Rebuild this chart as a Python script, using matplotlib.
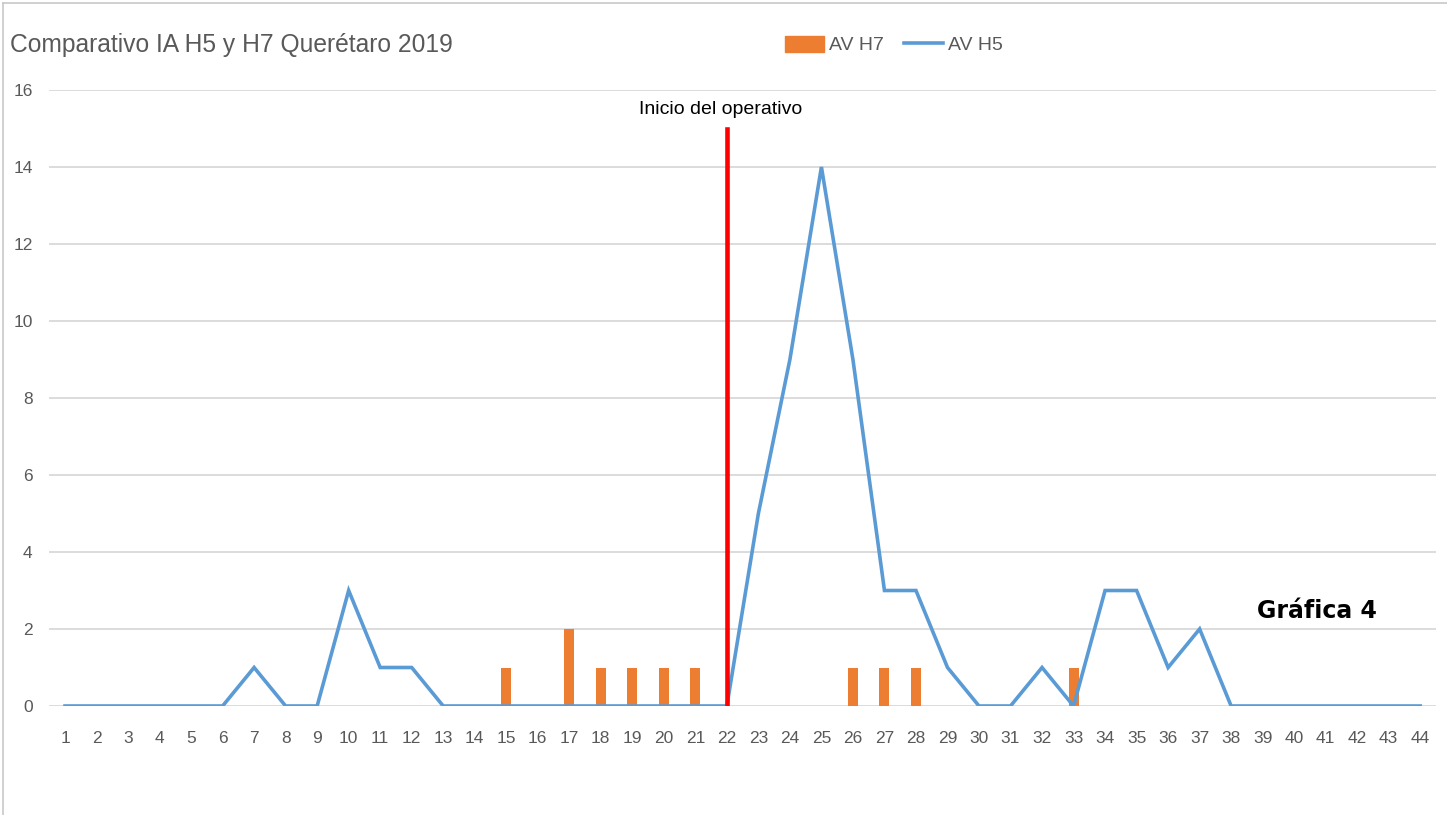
import matplotlib.pyplot as plt
from matplotlib.lines import Line2D
from matplotlib.patches import Patch
import numpy as np

semanas = list(range(1, 45))

av_h5 = [0, 0, 0, 0, 0, 0, 1, 0, 0, 3,
         1, 1, 0, 0, 0, 0, 0, 0, 0, 0,
         0, 0, 5, 9, 14, 9, 3, 3, 1, 0,
         0, 1, 0, 3, 3, 1, 2, 0, 0, 0,
         0, 0, 0, 0]

h7_semanas = [15, 17, 18, 19, 20, 21, 26, 27, 28, 33]
h7_valores = [1, 2, 1, 1, 1, 1, 1, 1, 1, 1]

semana_inicio = 22
tope_inicio = 15

titulo = 'Comparativo IA H5 y H7 Querétaro 2019'
texto_inicio = 'Inicio del operativo'
texto_grafica = 'Gráfica 4'

azul = '#5b9bd5'
naranja = '#ed7d31'
gris = '#595959'

plt.rcParams['font.family'] = ['Liberation Sans', 'DejaVu Sans']

fig = plt.figure(figsize=(14.47, 8.15), dpi=100)
ax = fig.add_axes([49.25/1447, 1-706/815, (1436-49.25)/1447, (706-90)/815])

ax.bar(h7_semanas, h7_valores, width=0.32, color=naranja, zorder=2)
ax.plot(semanas, av_h5, color=azul, lw=2.6, zorder=3, solid_joinstyle='miter')
ax.plot([semana_inicio, semana_inicio], [0, tope_inicio], color='#ff0000', lw=3.3, zorder=4)
ax.text(semana_inicio - 0.2, 15.5, texto_inicio, ha='center', va='center', fontsize=14, color='black')

ax.set_xlim(0.5, 44.5)
ax.set_ylim(0, 16)
ax.set_xticks(semanas)
ax.set_xticklabels([str(s) for s in semanas])
ax.set_yticks(np.arange(0, 17, 2))
ax.tick_params(length=0, labelsize=12.5, colors=gris)
ax.tick_params(axis='x', pad=18)
ax.tick_params(axis='y', pad=12)
ax.grid(axis='y', color='#d9d9d9', lw=1.3, zorder=0)
ax.set_axisbelow(True)
for s in ax.spines.values():
    s.set_visible(False)

fig.text(10/1447, 1-45/815, titulo, ha='left', va='center', fontsize=17.7, color=gris)
fig.text(1317/1447, 1-611/815, texto_grafica, ha='center', va='center', fontsize=17,
         fontweight='bold', color='black', family=['DejaVu Sans'])

handles = [Patch(color=naranja), Line2D([0], [0], color=azul, lw=2.6)]
fig.legend(handles, ['AV H7', 'AV H5'], loc='center', bbox_to_anchor=(894/1447, 1-45/815),
           ncol=2, frameon=False, fontsize=14, labelcolor=gris, handlelength=2.0,
           handleheight=0.9, columnspacing=1.0, handletextpad=0.3)

# borde del recuadro
fig.add_artist(Line2D([3/1447, 3/1447], [0, 1-3/815], color='#c8c8c8', lw=1.2))
fig.add_artist(Line2D([3/1447, 1], [1-3/815, 1-3/815], color='#c8c8c8', lw=1.2))

fig.savefig('out.png', dpi=100)
